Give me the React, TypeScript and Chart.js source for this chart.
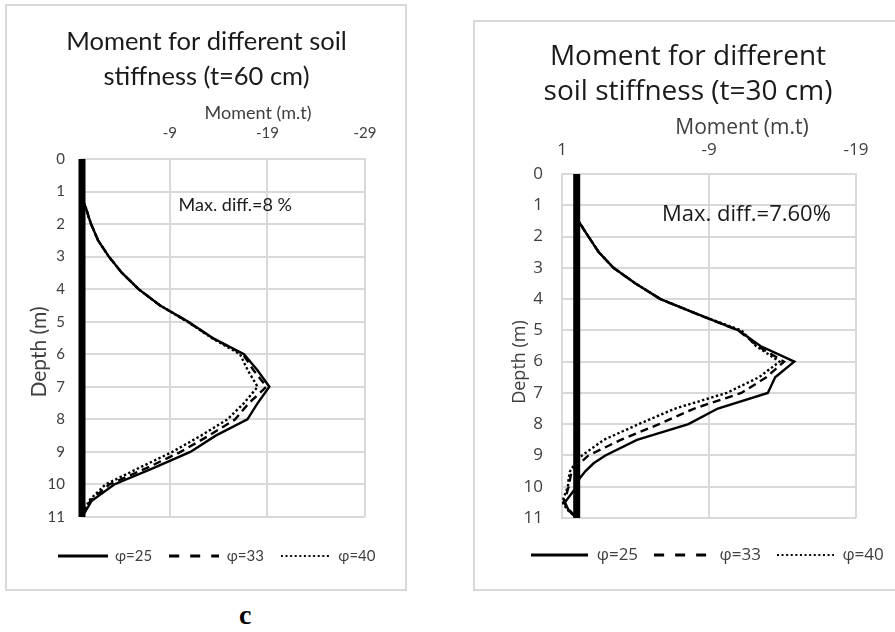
import React, { useEffect, useRef } from 'react';
import { Chart, registerables } from 'chart.js';

Chart.register(...registerables);

// ---------------- data: left chart (t = 60 cm) ----------------
const DEPTH_60 = [0, 1, 1.25, 1.5, 1.75, 2, 2.5, 3, 3.5, 4, 4.5, 5, 5.5, 6, 6.5, 7, 7.5, 8, 8.5, 9, 9.5, 10, 10.5, 11];
const PHI25_60 = [0, 0, -0.05, -0.4, -0.65, -0.93, -1.65, -2.75, -4.1, -5.8, -8.0, -10.9, -13.4, -16.6, -18.0, -19.2, -18.0, -16.95, -13.7, -11.1, -7.3, -3.3, -1.0, 0];
const PHI33_60 = [0, 0, -0.05, -0.4, -0.65, -0.93, -1.65, -2.75, -4.1, -5.8, -8.0, -10.85, -13.35, -16.5, -17.6, -18.9, -17.1, -15.7, -13.0, -10.1, -6.6, -2.8, -0.85, 0];
const PHI40_60 = [0, 0, -0.05, -0.4, -0.65, -0.93, -1.65, -2.75, -4.1, -5.8, -8.0, -10.8, -13.3, -16.2, -17.0, -18.0, -16.6, -14.9, -12.2, -9.25, -5.8, -2.4, -0.7, 0];
const X_TICKS_60 = [-29, -19, -9, 0];
const X_RANGE_60 = [-29, 0];

// ---------------- data: right chart (t = 30 cm) ----------------
const DEPTH_30 = [0, 1, 1.25, 1.45, 1.75, 2, 2.5, 3, 3.5, 4, 4.5, 5, 5.5, 6, 6.5, 7, 7.5, 8, 8.5, 9, 9.25, 9.5, 9.75, 10, 10.25, 10.5, 10.75, 11];
const PHI25_30 = [0, 0, 0, -0.05, -0.45, -0.8, -1.5, -2.5, -4.0, -5.7, -8.3, -11.0, -12.5, -14.8, -13.5, -13.0, -9.6, -7.6, -4.1, -1.95, -1.15, -0.6, -0.17, 0, 0.4, 0.8, 0.55, 0];
const PHI33_30 = [0, 0, 0, -0.05, -0.45, -0.8, -1.5, -2.5, -4.0, -5.7, -8.3, -11.0, -12.3, -14.1, -12.9, -11.2, -8.0, -5.6, -3.0, -0.8, -0.2, 0.35, 0.45, 0.55, 0.7, 0.9, 0.5, 0];
const PHI40_30 = [0, 0, 0, -0.05, -0.45, -0.8, -1.5, -2.5, -4.0, -5.7, -8.3, -11.2, -12.2, -13.8, -12.4, -10.2, -6.7, -4.2, -1.85, -0.36, 0.1, 0.45, 0.55, 0.6, 0.8, 1.0, 0.6, 0];
const X_TICKS_30 = [-19, -9, 1];
const X_RANGE_30 = [-19, 1];

// ---------------- shared ----------------
const WALL_DEPTH = [0, 11];
const WALL_MOMENT = [0, 0];
const DEPTH_RANGE = [0, 11];
const SERIES_LABELS = ['φ=25', 'φ=33', 'φ=40'];
const TITLE_60 = ['Moment for different soil', 'stiffness (t=60 cm)'];
const TITLE_30 = ['Moment for different', 'soil stiffness (t=30 cm)'];
const NOTE_60 = 'Max. diff.=8 %';
const NOTE_30 = 'Max. diff.=7.60%';
const NOTE_POS_60 = [-9.9, 1.42];
const NOTE_POS_30 = [-5.8, 1.3];
const X_TITLE = 'Moment (m.t)';
const Y_TITLE = 'Depth (m)';

const pts = (depths: number[], vals: number[]) => depths.map((d, i) => ({ x: vals[i], y: d }));

const GRID = '#d9d9d9';
const TICK = '#404040';
const INK = '#1a1a1a';
const LINE_W = 2.4;
const DASHES = [[], [8, 5], [LINE_W, LINE_W]];
const LEGEND_DASHES = [[], [10, 11], [2, 2.6]];

type TextItem = {
  text: string; family: string; size: number; color: string;
  x?: number; y?: number; dataX?: number; dataY?: number;
  align?: CanvasTextAlign; rotate?: number;
};

function makeTextPlugin(items: TextItem[]) {
  return {
    id: 'freeText',
    afterDraw(chart: any) {
      const ctx = chart.ctx as CanvasRenderingContext2D;
      for (const it of items) {
        ctx.save();
        ctx.font = `${it.size}px ${it.family}`;
        ctx.fillStyle = it.color;
        ctx.textAlign = it.align || 'center';
        ctx.textBaseline = 'middle';
        const x = it.dataX !== undefined ? chart.scales.x.getPixelForValue(it.dataX) : (it.x as number);
        const y = it.dataY !== undefined ? chart.scales.y.getPixelForValue(it.dataY) : (it.y as number);
        ctx.translate(x, y);
        if (it.rotate) ctx.rotate(it.rotate);
        ctx.fillText(it.text, 0, 0);
        ctx.restore();
      }
    },
  };
}

// small line sample used as the legend symbol (keeps the dash pattern)
function legendSymbol(width: number, dash: number[], lw: number) {
  const c = document.createElement('canvas');
  c.width = width;
  c.height = 6;
  const g = c.getContext('2d') as CanvasRenderingContext2D;
  g.strokeStyle = '#000';
  g.lineWidth = lw;
  g.setLineDash(dash);
  g.beginPath();
  g.moveTo(0, 3);
  g.lineTo(width, 3);
  g.stroke();
  return c;
}

type Spec = {
  depths: number[]; s25: number[]; s33: number[]; s40: number[];
  xTicks: number[]; xRange: number[]; hideTick: number | null;
  family: string; tickSize: number; legendSize: number;
  padLeft: number; yWidth: number; rightWidth: number; xHeight: number; padBottom: number;
  xTickPad: number; yTickPad: number; legendPad: number; legendTitlePad: number; boxWidth: number;
  texts: TextItem[];
};

function buildConfig(s: Spec): any {
  const lineDs = (idx: number, vals: number[]) => ({
    label: SERIES_LABELS[idx],
    data: pts(s.depths, vals),
    showLine: true,
    borderColor: '#000',
    backgroundColor: '#000',
    borderWidth: LINE_W,
    borderDash: DASHES[idx],
    pointRadius: 0,
    pointStyle: legendSymbol(s.boxWidth, LEGEND_DASHES[idx], idx === 2 ? 1.8 : 2.8),
    fill: false,
  });
  return {
    type: 'scatter',
    data: {
      datasets: [
        {
          label: 'wall',
          data: pts(WALL_DEPTH, WALL_MOMENT),
          showLine: true,
          borderColor: '#000',
          backgroundColor: '#000',
          borderWidth: 7,
          pointRadius: 0,
          clip: false,
        },
        lineDs(0, s.s25),
        lineDs(1, s.s33),
        lineDs(2, s.s40),
      ],
    },
    options: {
      responsive: false,
      animation: false,
      events: [],
      layout: { padding: { left: s.padLeft, right: 0, top: 0, bottom: s.padBottom } },
      scales: {
        x: {
          type: 'linear',
          position: 'top',
          min: s.xRange[0],
          max: s.xRange[1],
          reverse: true,
          afterBuildTicks: (sc: any) => { sc.ticks = s.xTicks.map((v) => ({ value: v })); },
          afterFit: (sc: any) => { sc.height = s.xHeight; sc.paddingLeft = 0; sc.paddingRight = 0; },
          ticks: {
            callback: (v: number) => (v === s.hideTick ? '' : String(v)),
            font: { family: s.family, size: s.tickSize },
            color: TICK,
            padding: s.xTickPad,
            maxRotation: 0,
          },
          grid: { color: GRID, lineWidth: 2, drawTicks: false },
          border: { color: GRID, width: 2 },
        },
        y: {
          type: 'linear',
          position: 'left',
          min: DEPTH_RANGE[0],
          max: DEPTH_RANGE[1],
          reverse: true,
          afterFit: (sc: any) => { sc.width = s.yWidth; sc.paddingTop = 0; sc.paddingBottom = 0; },
          ticks: {
            stepSize: 1,
            font: { family: s.family, size: s.tickSize },
            color: TICK,
            padding: s.yTickPad,
          },
          grid: { color: GRID, lineWidth: 2, drawTicks: false },
          border: { color: GRID, width: 2 },
        },
        y2: {
          type: 'linear',
          position: 'right',
          display: true,
          afterFit: (sc: any) => { sc.width = s.rightWidth; sc.paddingTop = 0; sc.paddingBottom = 0; },
          ticks: { display: false },
          grid: { display: false },
          border: { display: false },
        },
      },
      plugins: {
        title: { display: false },
        tooltip: { enabled: false },
        legend: {
          display: true,
          position: 'bottom',
          align: 'center',
          title: { display: true, text: '', padding: { top: s.legendTitlePad, bottom: 0 }, font: { size: 10, lineHeight: 1.2 } },
          labels: {
            usePointStyle: true,
            pointStyleWidth: s.boxWidth,
            font: { family: s.family, size: s.legendSize },
            color: TICK,
            padding: s.legendPad,
            filter: (item: any) => item.text !== 'wall',
          },
        },
      },
    },
    plugins: [makeTextPlugin(s.texts)],
  };
}

const LATO = 'Lato';
const OPEN = "'Open Sans'";

const spec60: Spec = {
  depths: DEPTH_60, s25: PHI25_60, s33: PHI33_60, s40: PHI40_60,
  xTicks: X_TICKS_60, xRange: X_RANGE_60, hideTick: 0,
  family: LATO, tickSize: 15, legendSize: 15,
  padLeft: 21, yWidth: 54, rightWidth: 40, xHeight: 153, padBottom: 15.5,
  xTickPad: 17, yTickPad: 17, legendPad: 17, legendTitlePad: 2.5, boxWidth: 50,
  texts: [
    { text: TITLE_60[0], family: LATO, size: 25.5, color: INK, x: 199.5, y: 36 },
    { text: TITLE_60[1], family: LATO, size: 25.5, color: INK, x: 199.5, y: 71 },
    { text: X_TITLE, family: LATO, size: 18, color: TICK, x: 251, y: 107 },
    { text: Y_TITLE, family: LATO, size: 21, color: TICK, x: 32, y: 346, rotate: -Math.PI / 2 },
    { text: NOTE_60, family: LATO, size: 18, color: INK, dataX: NOTE_POS_60[0], dataY: NOTE_POS_60[1], align: 'left' },
  ],
};

const spec30: Spec = {
  depths: DEPTH_30, s25: PHI25_30, s33: PHI33_30, s40: PHI40_30,
  xTicks: X_TICKS_30, xRange: X_RANGE_30, hideTick: null,
  family: OPEN, tickSize: 17, legendSize: 17,
  padLeft: 25, yWidth: 62, rightWidth: 59, xHeight: 152, padBottom: 15.5,
  xTickPad: 13.8, yTickPad: 19, legendPad: 16, legendTitlePad: 0.5, boxWidth: 57,
  texts: [
    { text: TITLE_30[0], family: OPEN, size: 28, color: INK, x: 213, y: 35 },
    { text: TITLE_30[1], family: OPEN, size: 28, color: INK, x: 213, y: 70 },
    { text: X_TITLE, family: OPEN, size: 21, color: TICK, x: 267, y: 106 },
    { text: Y_TITLE, family: OPEN, size: 18, color: TICK, x: 45, y: 340, rotate: -Math.PI / 2 },
    { text: NOTE_30, family: OPEN, size: 22, color: INK, dataX: NOTE_POS_30[0], dataY: NOTE_POS_30[1], align: 'left' },
  ],
};

function ChartCanvas({ spec, width, height }: { spec: Spec; width: number; height: number }) {
  const ref = useRef<HTMLCanvasElement>(null);
  useEffect(() => {
    const chart = new Chart(ref.current as HTMLCanvasElement, buildConfig(spec));
    return () => chart.destroy();
  }, [spec]);
  return <canvas ref={ref} width={width} height={height} style={{ display: 'block', width, height }} />;
}

export default function App() {
  return (
    <div style={{ position: 'absolute', left: 0, top: 0, width: 895, height: 632, overflow: 'hidden', background: '#fff' }}>
      <div style={{ position: 'absolute', left: 5, top: 4, width: 402, height: 587, border: `2px solid ${GRID}`, boxSizing: 'border-box' }}>
        <ChartCanvas spec={spec60} width={398} height={583} />
      </div>
      <div style={{ position: 'absolute', left: 473, top: 20, width: 444, height: 571, border: `2px solid ${GRID}`, boxSizing: 'border-box' }}>
        <ChartCanvas spec={spec30} width={440} height={567} />
      </div>
      <div style={{ position: 'absolute', left: 239, top: 601, fontFamily: "'Liberation Serif', serif", fontWeight: 'bold', fontSize: 28, lineHeight: '28px', color: '#000' }}>c</div>
    </div>
  );
}
